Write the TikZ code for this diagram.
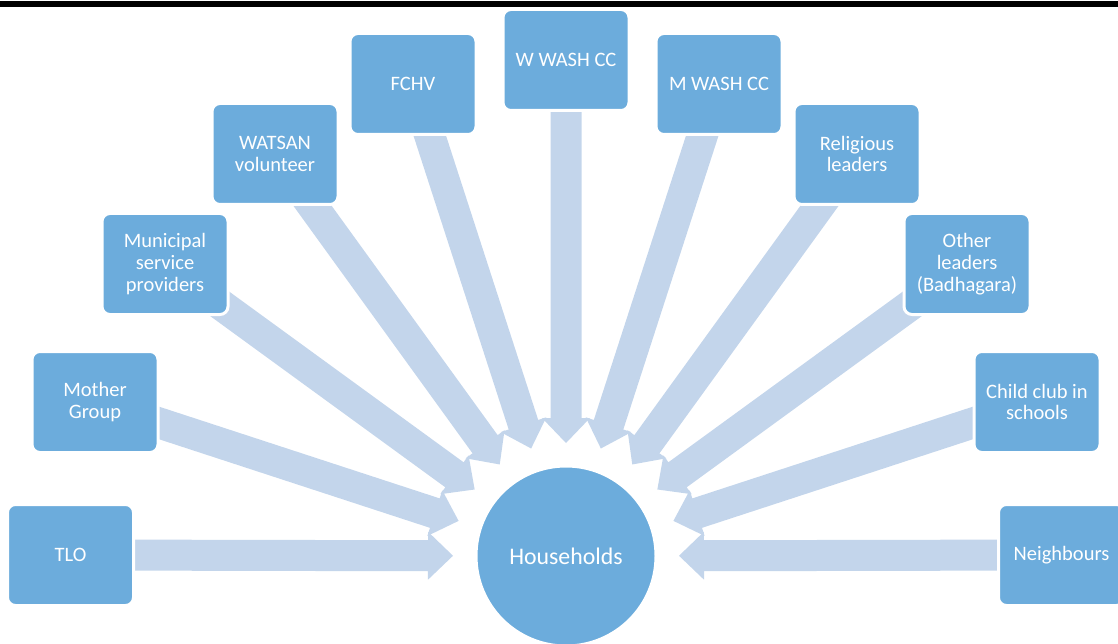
\documentclass[tikz,border=0pt]{standalone}
\usepackage{fontspec}
\setmainfont{Carlito}
\usetikzlibrary{calc}
\pgfdeclarelayer{bg}
\pgfsetlayers{bg,main}
\definecolor{boxblue}{RGB}{108,172,220}
\definecolor{arrblue}{RGB}{195,213,235}
\tikzset{
  x=1pt, y=-1pt,
  srcbox/.style={rectangle, rounded corners=8pt, fill=boxblue, draw=white, line width=3pt,
    minimum width=126pt, minimum height=101pt, inner sep=2pt, align=center, text=white,
    font=\fontsize{20.5}{21.7}\selectfont},
  hub/.style={circle, fill=boxblue, draw=white, line width=3pt, minimum size=180pt,
    text=white, font=\fontsize{23.8}{26}\selectfont},
  arr/.style={fill=arrblue, draw=none}
}
\newcommand\blockarr[1]{%
  \coordinate (S) at (#1.center);
  \coordinate (T) at ($(hh.center)!113pt!(#1.center)$);
  \coordinate (B) at ($(T)!25pt!(S)$);
  \fill[arr] ($(S)!15.5pt!90:(T)$) -- ($(B)!15.5pt!-90:(S)$) -- ($(B)!24pt!-90:(S)$) -- (T)
    -- ($(B)!24pt!90:(S)$) -- ($(B)!15.5pt!90:(S)$) -- ($(S)!15.5pt!-90:(T)$) -- cycle;
}
\begin{document}
\begin{tikzpicture}
\useasboundingbox (0,0) rectangle (1118,644);
\clip (0,0) rectangle (1118,644);
\fill[black] (0,1) rectangle (1118,7);
\node[hub] (hh) at (566,556) {Households};
\node[srcbox] (tlo) at (70.5,555) {TLO};
\node[srcbox] (mg) at (95,402) {Mother\\Group};
\node[srcbox] (msp) at (165,264) {Municipal\\service\\providers};
\node[srcbox] (ws) at (275,154) {WATSAN\\volunteer};
\node[srcbox] (fchv) at (413,84) {FCHV};
\node[srcbox] (wwash) at (566,60) {W WASH CC};
\node[srcbox] (mwash) at (719,84) {M WASH CC};
\node[srcbox] (rel) at (857,154) {Religious\\leaders};
\node[srcbox] (oth) at (967,264) {Other\\leaders\\(Badhagara)};
\node[srcbox] (cc) at (1037,402) {Child club in\\schools};
\node[srcbox] (nb) at (1061.5,555) {Neighbours};
\begin{pgfonlayer}{bg}
\foreach \n in {tlo,mg,msp,ws,fchv,wwash,mwash,rel,oth,cc,nb} {\blockarr{\n}}
\end{pgfonlayer}
\end{tikzpicture}
\end{document}
